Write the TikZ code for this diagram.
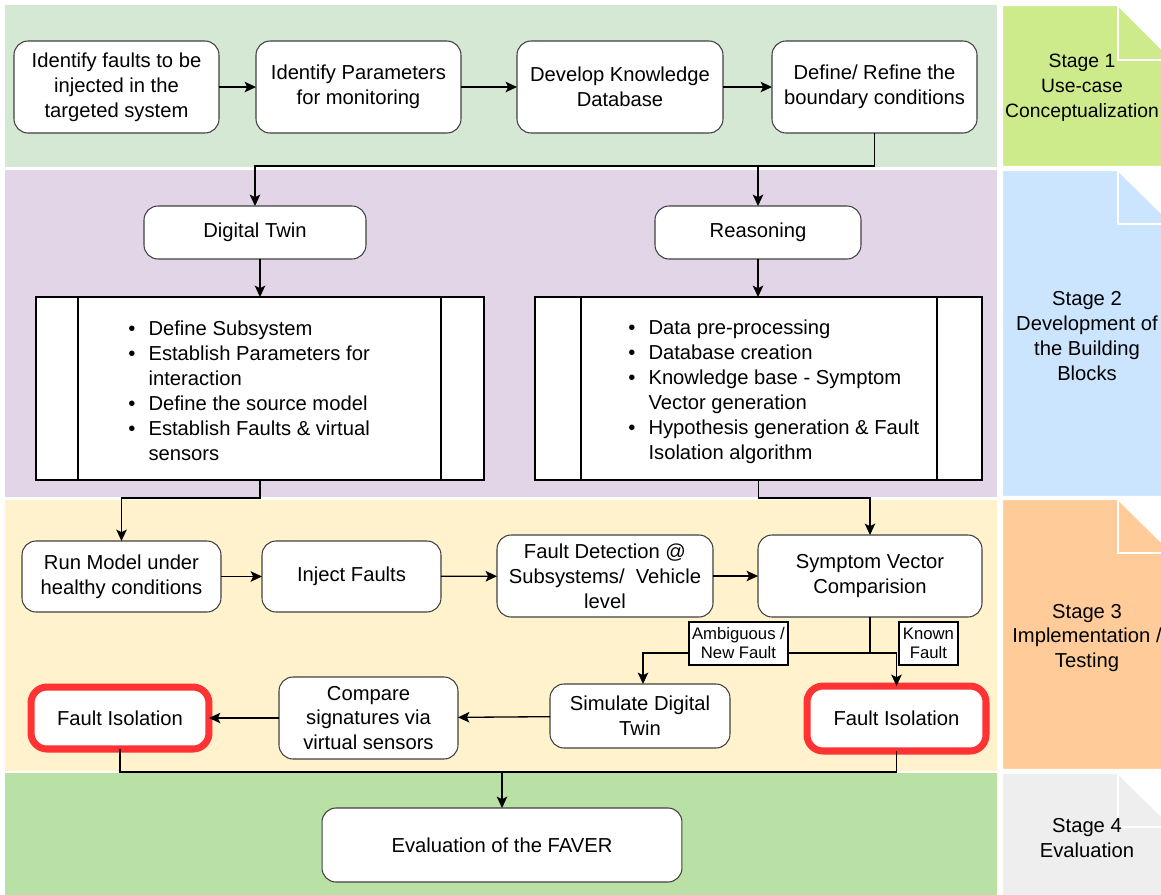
\documentclass[tikz,border=0pt]{standalone}
\usepackage{fontspec}
\setmainfont{Liberation Sans}
\usetikzlibrary{arrows.meta}
\definecolor{pone}{HTML}{D5E8D4}
\definecolor{ptwo}{HTML}{E1D5E7}
\definecolor{pthree}{HTML}{FFF2CC}
\definecolor{pfour}{HTML}{B9E0A5}
\definecolor{noteone}{HTML}{CDEB8B}
\definecolor{notetwo}{HTML}{CCE5FF}
\definecolor{notethree}{HTML}{FFCC99}
\definecolor{notefour}{HTML}{EEEEEE}
\definecolor{redc}{HTML}{FF3333}
\newcommand{\bul}{\makebox[11.5pt][l]{\textbullet}}
\newcommand{\ind}{\hspace*{11.5pt}}
\begin{document}
\begin{tikzpicture}[x=0.02cm,y=-0.02cm,
  font=\fontsize{11.5}{14.2}\selectfont,
  box/.style={draw=black!75, line width=0.6pt, fill=white, rounded corners=0.28cm, align=center, inner sep=0pt, outer sep=0pt},
  redbox/.style={draw=redc, line width=4pt, fill=white, rounded corners=0.32cm, align=center, inner sep=0pt, outer sep=0pt},
  proc/.style={draw=black, line width=0.75pt, fill=white, inner sep=0pt, outer sep=0pt},
  arr/.style={line width=0.75pt, -{Stealth[length=6.5pt,width=6pt,inset=1.5pt]}},
  ln/.style={line width=0.75pt},
  lab/.style={draw=black, line width=0.75pt, fill=white, inner sep=0pt, outer sep=0pt, align=center, font=\fontsize{9.5}{10.8}\selectfont},
  notefold/.style={draw=white, line width=1.2pt}
  ]
\useasboundingbox (0,0) rectangle (1161,894);
\clip (0,0) rectangle (1161,894);
\fill[white] (0,0) rectangle (1161,894);
% stage panels
\fill[pone]   (5,5)   rectangle (997,167);
\fill[ptwo]   (5,170) rectangle (997,497);
\fill[pthree] (5,500) rectangle (997,771);
\fill[pfour]  (5,773) rectangle (997,900);
% stage notes
\filldraw[fill=noteone, notefold] (1002,5) -- (1118,5) -- (1173,60) -- (1173,167) -- (1002,167) -- cycle;
\draw[notefold] (1118,5) -- (1118,60) -- (1173,60);
\filldraw[fill=notetwo, notefold] (1002,170) -- (1118,170) -- (1173,224) -- (1173,497) -- (1002,497) -- cycle;
\draw[notefold] (1118,170) -- (1118,224) -- (1173,224);
\filldraw[fill=notethree, notefold] (1002,499) -- (1118,499) -- (1173,553) -- (1173,770) -- (1002,770) -- cycle;
\draw[notefold] (1118,499) -- (1118,553) -- (1173,553);
\filldraw[fill=notefour, notefold] (1002,773) -- (1118,773) -- (1173,827) -- (1173,905) -- (1002,905) -- cycle;
\draw[notefold] (1118,773) -- (1118,827) -- (1173,827);
\node[align=center, font=\fontsize{11}{14.2}\selectfont] (N1) at (1082,88) {Stage 1\\Use-case\\Conceptualization};
\node[align=center] (N2) at (1087,336) {Stage 2\\Development of\\the Building\\Blocks};
\node[align=center] (N3) at (1087,638) {Stage 3\\Implementation /\\Testing};
\node[align=center] (N4) at (1087,838) {Stage 4\\Evaluation};
% junction levels
\coordinate (s1) at (0,166);
\coordinate (s2) at (0,498);
\coordinate (s3) at (0,653);
\coordinate (s4) at (0,772);
% stage 1
\node[box, minimum width=4.10cm, minimum height=1.84cm] (A1) at (116.5,87) {Identify faults to be\\injected in the\\targeted system};
\node[box, minimum width=4.10cm, minimum height=1.84cm] (A2) at (358.5,87) {Identify Parameters\\for monitoring};
\node[box, minimum width=4.12cm, minimum height=1.84cm] (A3) at (620,87) {Develop Knowledge\\Database};
\node[box, minimum width=4.10cm, minimum height=1.84cm] (A4) at (874.5,87) {Define/ Refine the\\boundary conditions};
\draw[arr] (A1) -- (A2);
\draw[arr] (A2) -- (A3);
\draw[arr] (A3) -- (A4);
% stage 2
\node[box, minimum width=4.44cm, minimum height=1.06cm] (B1) at (255,232.5) {Digital Twin};
\node[box, minimum width=4.12cm, minimum height=1.06cm] (B2) at (758,232.5) {Reasoning};
\draw[arr] (A4.south) -- (A4.south |- s1) -| (B1.north);
\draw[arr] (B2.north |- s1) -- (B2.north);
\node[proc, minimum width=8.96cm, minimum height=3.66cm] (P1) at (260,388.5) {};
\node[proc, minimum width=8.94cm, minimum height=3.66cm] (P2) at (758.5,388.5) {};
\draw[ln] ([xshift=0.84cm]P1.north west) -- ([xshift=0.84cm]P1.south west);
\draw[ln] ([xshift=-0.86cm]P1.north east) -- ([xshift=-0.86cm]P1.south east);
\draw[ln] ([xshift=0.92cm]P2.north west) -- ([xshift=0.92cm]P2.south west);
\draw[ln] ([xshift=-0.90cm]P2.north east) -- ([xshift=-0.90cm]P2.south east);
\node[anchor=west, align=left, inner sep=0pt] (L1) at (128,391)
  {\bul Define Subsystem\\ \bul Establish Parameters for\\ \ind interaction\\ \bul Define the source model\\ \bul Establish Faults \& virtual\\ \ind sensors};
\node[anchor=west, align=left, inner sep=0pt] (L2) at (628,391.5)
  {\bul Data pre-processing\\ \bul Database creation\\ \bul Knowledge base - Symptom\\ \ind Vector generation\\ \bul Hypothesis generation \& Fault\\ \ind Isolation algorithm};
\draw[arr] (P1.north |- B1.south) -- (P1.north);
\draw[arr] (B2.south) -- (B2.south |- P2.north);
% stage 3
\node[box, minimum width=3.98cm, minimum height=1.42cm] (C1) at (121.5,576.5) {Run Model under\\healthy conditions};
\node[box, minimum width=3.58cm, minimum height=1.42cm] (C2) at (351.5,576.5) {Inject Faults};
\node[box, minimum width=4.32cm, minimum height=1.64cm] (C3) at (605,576) {Fault Detection @\\Subsystems/~ Vehicle\\level};
\node[box, minimum width=4.48cm, minimum height=1.64cm] (C4) at (870,576) {Symptom Vector\\Comparision};
\draw[arr] (P1.south) -- (P1.south |- s2) -| (C1.north);
\draw[arr] (P2.south) -- (P2.south |- s2) -| (C4.north);
\draw[arr] (C1) -- (C2);
\draw[arr] (C2) -- (C3);
\draw[arr] (C3) -- (C4);
\node[box, minimum width=3.60cm, minimum height=1.28cm] (D1) at (640,716) {Simulate Digital\\Twin};
\node[box, minimum width=3.58cm, minimum height=1.64cm] (D2) at (368.5,718) {Compare\\signatures via\\virtual sensors};
\node[redbox, minimum width=3.56cm, minimum height=1.24cm] (D3) at (120,718) {Fault Isolation};
\node[redbox, minimum width=3.58cm, minimum height=1.30cm] (D4) at (896.5,718.5) {Fault Isolation};
\draw[ln] (C4.south) -- (C4.south |- s3);
\draw[arr] (C4.south |- s3) -| ([xshift=0.06cm]D1.north);
\draw[arr] (C4.south |- s3) -| (D4.north);
\node[lab, minimum width=1.98cm, minimum height=0.86cm] (K1) at (738.5,643.5) {Ambiguous /\\New Fault};
\node[lab, minimum width=1.18cm, minimum height=0.86cm] (K2) at (928.5,643.5) {Known\\Fault};
\draw[arr] (D1) -- (D2);
\draw[arr] (D2) -- (D3);
% stage 4
\node[box, minimum width=7.20cm, minimum height=1.48cm] (E) at (502,845) {Evaluation of the FAVER};
\draw[ln] (D3.south) -- (D3.south |- s4) -- (D4.south |- s4) -- (D4.south);
\draw[arr] (E.north |- s4) -- (E.north);
\end{tikzpicture}
\end{document}
